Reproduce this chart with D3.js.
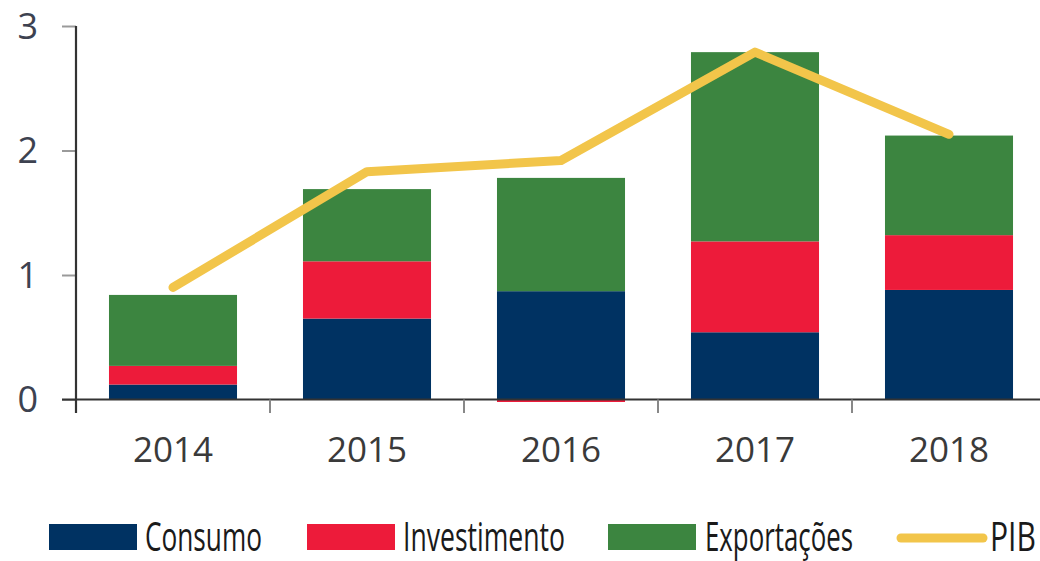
<!DOCTYPE html>
<html>
<head>
<meta charset="utf-8">
<script src="https://cdn.jsdelivr.net/npm/d3@7"></script>
<style>
  html, body { margin: 0; padding: 0; background: #fff; }
  svg { display: block; font-family: "Open Sans", sans-serif; }
</style>
</head>
<body>
<svg id="chart" width="1040" height="561"></svg>
<script>
// ---- data ----
const years = ["2014", "2015", "2016", "2017", "2018"];
const consumo = [0.12, 0.65, 0.87, 0.54, 0.88];
const investimento = [0.15, 0.46, -0.02, 0.73, 0.44];
const exportacoes = [0.57, 0.58, 0.91, 1.52, 0.80];
const pib = [0.90, 1.83, 1.92, 2.79, 2.13];
const yTicks = [0, 1, 2, 3];
const seriesNames = ["Consumo", "Investimento", "Exportações"];
const lineName = "PIB";

// ---- styles ----
const colors = { "Consumo": "#003262", "Investimento": "#ED1B3A", "Exportações": "#3C8540", "PIB": "#F2C54A" };

const svg = d3.select("#chart");
const x = d3.scaleBand().domain(years).range([76, 1046]).paddingInner(0.34).paddingOuter(0.17);
const y = d3.scaleLinear().domain([0, 3]).range([399.5, 26]);
const step = x.step();

const table = years.map((yr, i) => ({
  year: yr, "Consumo": consumo[i], "Investimento": investimento[i], "Exportações": exportacoes[i]
}));
const stacked = d3.stack().keys(seriesNames).offset(d3.stackOffsetDiverging)(table);

// bars
svg.append("g").selectAll("g").data(stacked).join("g")
  .attr("fill", d => colors[d.key])
  .selectAll("rect").data(d => d).join("rect")
  .attr("x", d => x(d.data.year))
  .attr("width", x.bandwidth())
  .attr("y", d => y(Math.max(d[0], d[1])))
  .attr("height", d => Math.abs(y(d[0]) - y(d[1])));

// y axis
const yAxis = svg.append("g").attr("transform", "translate(76,0)")
  .call(d3.axisLeft(y).tickValues(yTicks).tickFormat(d3.format("d")).tickSize(14).tickPadding(24));
yAxis.select(".domain").remove();
yAxis.selectAll(".tick line").attr("stroke", "#9a9a9a").attr("stroke-width", 2);
yAxis.selectAll(".tick text").attr("fill", "#3d4250").attr("font-size", 36)
  .attr("font-family", "Open Sans").attr("dy", "0.34em");
svg.append("line").attr("x1", 76).attr("x2", 76).attr("y1", y(3)).attr("y2", 413)
  .attr("stroke", "#333").attr("stroke-width", 2.2);

// x axis
const xAxis = svg.append("g").attr("transform", `translate(0,${y(0)})`)
  .call(d3.axisBottom(x).tickSize(0).tickPadding(38));
xAxis.select(".domain").remove();
xAxis.selectAll(".tick text").attr("fill", "#3a3a3a").attr("font-size", 35).attr("font-family", "Open Sans");
svg.append("line").attr("x1", 62).attr("x2", 1040).attr("y1", y(0)).attr("y2", y(0))
  .attr("stroke", "#333").attr("stroke-width", 2.2);
svg.append("g").selectAll("line").data(years.slice(1)).join("line")
  .attr("x1", d => x(d) - step * 0.17).attr("x2", d => x(d) - step * 0.17)
  .attr("y1", y(0)).attr("y2", 413)
  .attr("stroke", "#888").attr("stroke-width", 2);

// PIB line
const line = d3.line().x((d, i) => x(years[i]) + x.bandwidth() / 2).y(d => y(d));
svg.append("path").datum(pib).attr("d", line)
  .attr("fill", "none").attr("stroke", colors.PIB).attr("stroke-width", 9)
  .attr("stroke-linecap", "round").attr("stroke-linejoin", "round");

// legend
const legendItems = [
  { name: "Consumo", type: "rect", sx: 49, tx: 145, w: 117 },
  { name: "Investimento", type: "rect", sx: 307, tx: 403, w: 162 },
  { name: "Exportações", type: "rect", sx: 608, tx: 705, w: 148 },
  { name: lineName, type: "line", sx: 897, tx: 990, w: 46 }
];
const lg = svg.append("g");
legendItems.forEach(it => {
  if (it.type === "rect") {
    lg.append("rect").attr("x", it.sx).attr("y", 524).attr("width", 88).attr("height", 26)
      .attr("fill", colors[it.name]);
  } else {
    lg.append("line").attr("x1", it.sx + 4).attr("x2", it.sx + 86).attr("y1", 538).attr("y2", 538)
      .attr("stroke", colors[it.name]).attr("stroke-width", 9).attr("stroke-linecap", "round");
  }
  lg.append("text").attr("transform", `translate(${it.tx},551) scale(1,1.333)`)
    .attr("x", 0).attr("y", 0)
    .attr("textLength", it.w).attr("lengthAdjust", "spacingAndGlyphs")
    .attr("font-size", 30).attr("fill", "#1a1a1a").attr("font-family", "Open Sans")
    .text(it.name);
});
</script>
</body>
</html>
